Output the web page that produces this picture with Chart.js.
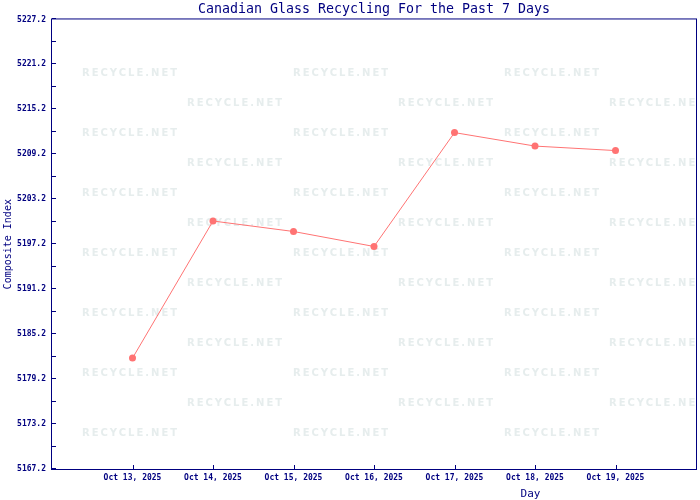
<!DOCTYPE html>
<html><head><meta charset="utf-8">
<script src="https://cdn.jsdelivr.net/npm/chart.js@4/dist/chart.umd.min.js"></script>
<style>html,body{margin:0;padding:0;background:#fff}#wrap{width:700px;height:500px}</style>
</head><body><div id="wrap"><canvas id="c" width="700" height="500"></canvas></div>
<script>
const days = ["Oct 13, 2025", "Oct 14, 2025", "Oct 15, 2025", "Oct 16, 2025", "Oct 17, 2025", "Oct 18, 2025", "Oct 19, 2025"];
const compositeIndex = [5182.0, 5200.3, 5198.9, 5196.9, 5212.1, 5210.3, 5209.7];
const yTickLabels = ["5167.2", "5173.2", "5179.2", "5185.2", "5191.2", "5197.2", "5203.2", "5209.2", "5215.2", "5221.2", "5227.2"];
const yMin = 5167.2, yMax = 5227.2, yMinorStep = 3;
const titleText = "Canadian Glass Recycling For the Past 7 Days";
const xTitleText = "Day";
const yTitleText = "Composite Index";
const watermarkText = "RECYCLE.NET";

const NAVY = '#000080';
const MONO = '"DejaVu Sans Mono", monospace';

const framePlugin = {
  id: 'frame',
  beforeDatasetsDraw(chart) {
    const {ctx, chartArea: a} = chart;
    ctx.save();
    ctx.beginPath();
    ctx.rect(a.left, a.top, a.right - a.left, a.bottom - a.top);
    ctx.clip();
    ctx.fillStyle = '#e6eded';
    ctx.font = 'bold 10px "DejaVu Sans", sans-serif';
    ctx.textBaseline = 'middle';
    ctx.textAlign = 'left';
    if ('letterSpacing' in ctx) ctx.letterSpacing = '2px';
    for (let r = 0; r < 13; r++) {
      const y = a.top + 54 + r * 30;
      const x0 = (r % 2 === 0) ? a.left + 30 : a.left + 135;
      for (let k = 0; k < 4; k++) ctx.fillText(watermarkText, x0 + k * 211, y);
    }
    ctx.restore();
  },
  afterDraw(chart) {
    const {ctx, chartArea: a, scales} = chart;
    ctx.save();
    ctx.strokeStyle = NAVY;
    ctx.lineWidth = 1;
    ctx.strokeRect(a.left - 0.5, a.top - 0.5, a.right - a.left + 1, a.bottom - a.top + 1);
    ctx.beginPath();
    scales.y.ticks.forEach(t => {
      const y = Math.round(scales.y.getPixelForValue(t.value)) - 0.5;
      ctx.moveTo(a.left, y); ctx.lineTo(a.left + 4, y);
    });
    scales.x.ticks.forEach(t => {
      const x = Math.round(scales.x.getPixelForValue(t.value)) + 0.5;
      ctx.moveTo(x, a.bottom); ctx.lineTo(x, a.bottom - 4);
    });
    ctx.stroke();
    ctx.fillStyle = NAVY;
    ctx.font = '11px ' + MONO;
    ctx.textAlign = 'center';
    ctx.textBaseline = 'middle';
    ctx.fillText(xTitleText, a.left + (a.right - a.left) * 0.743, a.bottom + 25);
    ctx.restore();
  }
};

new Chart(document.getElementById('c'), {
  type: 'line',
  data: {
    datasets: [{
      data: compositeIndex.map((v, i) => ({x: i + 1, y: v})),
      borderColor: '#ff7373',
      backgroundColor: '#ff7373',
      borderWidth: 1,
      pointRadius: 3.5,
      pointBorderWidth: 0,
      pointStyle: 'circle',
      tension: 0
    }]
  },
  options: {
    responsive: false,
    devicePixelRatio: 1,
    animation: false,
    layout: {padding: {left: 0, right: 2, top: 0, bottom: 0}},
    plugins: {
      legend: {display: false},
      tooltip: {enabled: false},
      title: {
        display: true, text: titleText, color: NAVY, fullSize: false,
        font: {family: MONO, size: 13.3, weight: 'normal'},
        padding: {top: 1.5, bottom: 2}
      }
    },
    scales: {
      x: {
        type: 'linear', min: 0, max: 8,
        grid: {display: false, drawTicks: false},
        border: {display: false},
        afterBuildTicks: s => { s.ticks = days.map((d, i) => ({value: i + 1})); },
        afterFit: s => { s.height = 31; },
        ticks: {
          autoSkip: false, maxRotation: 0, padding: 4, color: NAVY,
          font: {family: MONO, size: 8, weight: 'bold'},
          callback: v => days[v - 1] ?? ''
        }
      },
      y: {
        type: 'linear', min: yMin, max: yMax,
        grid: {display: false, drawTicks: false},
        border: {display: false},
        afterBuildTicks: s => {
          const t = [];
          for (let i = 0; i <= (yTickLabels.length - 1) * 2; i++) t.push({value: yMin + i * yMinorStep});
          s.ticks = t;
        },
        afterFit: s => { s.width = 52; },
        title: {
          display: true, text: yTitleText, color: NAVY,
          font: {family: MONO, size: 10}, padding: {top: 2, bottom: 0}
        },
        ticks: {
          autoSkip: false, padding: 6, color: NAVY,
          font: {family: MONO, size: 8, weight: 'bold'},
          callback: (v, i) => (i % 2 === 0) ? yTickLabels[i / 2] : ''
        }
      }
    }
  },
  plugins: [framePlugin]
});
</script>
</body></html>
